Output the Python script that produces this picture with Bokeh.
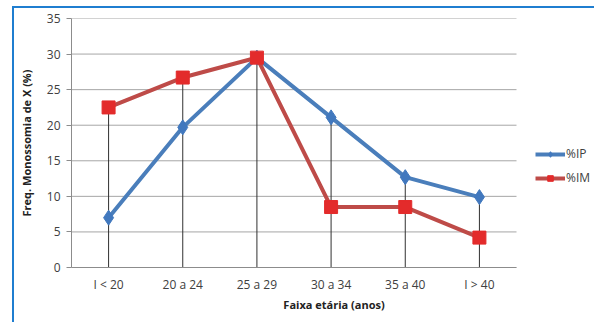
from bokeh.plotting import figure
from bokeh.models import Range1d, Legend, LegendItem, FixedTicker
from bokeh.embed import file_html
from bokeh.resources import INLINE

categories = ["I < 20", "20 a 24", "25 a 29", "30 a 34", "35 a 40", "I > 40"]
ip_values = [7.0, 19.7, 29.5, 21.1, 12.7, 9.9]
im_values = [22.5, 26.7, 29.5, 8.5, 8.5, 4.2]
y_ticks = [0, 5, 10, 15, 20, 25, 30, 35]

n = len(categories)
xpos = [i + 0.5 for i in range(n)]
drop_top = [max(a, b) for a, b in zip(ip_values, im_values)]
drop_bottom = [0] * n

FONT = "Open Sans"
TXT = "#404040"
BLUE = "#4A7EBB"
BLUE_M = "#4178BE"
RED = "#BE4B48"
RED_M = "#E32B2B"
FRAME_BLUE = "#1F7ED0"

CANVAS_W, CANVAS_H = 582, 316
LEFT, TOP, BOTTOM = 57, 10, 57
PLOT_W = 445                     # width of the category area
FRAME_W = CANVAS_W - LEFT        # frame extends to the right edge (room for legend)
x_end = n * FRAME_W / PLOT_W

p = figure(width=CANVAS_W, height=CANVAS_H, output_backend="svg",
           toolbar_location=None,
           x_range=Range1d(0, x_end), y_range=Range1d(0, 35),
           min_border_left=LEFT, min_border_right=0, min_border_top=TOP,
           min_border_bottom=BOTTOM)
p.styles = {"margin-left": "12px", "margin-top": "6px",
            "border-top": "2px solid " + FRAME_BLUE,
            "border-left": "2px solid " + FRAME_BLUE}
p.outline_line_color = None
p.background_fill_color = "white"
p.border_fill_color = "white"
p.xgrid.grid_line_color = None
p.ygrid.grid_line_color = None

# horizontal gridlines limited to the category area
p.segment(x0=[0] * len(y_ticks), y0=y_ticks, x1=[n] * len(y_ticks), y1=y_ticks,
          line_color="#A6A6A6", line_width=1)

# axes
p.yaxis.ticker = FixedTicker(ticks=y_ticks)
p.xaxis.ticker = FixedTicker(ticks=xpos)
p.xaxis.major_label_overrides = {x: c for x, c in zip(xpos, categories)}
p.xaxis.bounds = (0, n)
for ax in (p.xaxis, p.yaxis):
    ax.axis_line_color = "#8C8C8C"
    ax.major_label_text_font = FONT
    ax.major_label_text_font_size = "12px"
    ax.major_label_text_color = TXT
    ax.axis_label_text_font = FONT
    ax.axis_label_text_font_style = "bold"
    ax.axis_label_text_font_size = "11px"
    ax.axis_label_text_color = "#222222"
    ax.minor_tick_line_color = None
p.yaxis.major_tick_line_color = "#8C8C8C"
p.yaxis.major_tick_out = 5
p.yaxis.major_tick_in = 0
p.xaxis.major_tick_line_color = None
p.xaxis.major_label_standoff = 2
p.yaxis.major_label_standoff = 6
p.xaxis.axis_label = "Faixa etária (anos)"
p.yaxis.axis_label = "Freq. Monossomia de X (%)"
p.xaxis.axis_label_standoff = 1
p.yaxis.axis_label_standoff = 10

# drop lines
p.segment(x0=xpos, y0=drop_bottom, x1=xpos, y1=drop_top,
          line_color="#303030", line_width=1)

# series
l_ip = p.line(xpos, ip_values, line_color=BLUE, line_width=4)
m_ip = p.scatter(xpos, ip_values, marker="diamond", size=15,
                 fill_color=BLUE_M, line_color=BLUE_M)
l_im = p.line(xpos, im_values, line_color=RED, line_width=4)
m_im = p.scatter(xpos, im_values, marker="square", size=13,
                 fill_color=RED_M, line_color=RED_M)

legend = Legend(items=[LegendItem(label="%IP", renderers=[l_ip, m_ip]),
                       LegendItem(label="%IM", renderers=[l_im, m_im])],
                location=(464, 81), orientation="vertical",
                border_line_color=None, background_fill_alpha=0,
                label_text_font=FONT, label_text_font_size="12px",
                label_text_color=TXT, glyph_width=30, glyph_height=14,
                label_height=14, spacing=7, padding=4, margin=0,
                label_standoff=1)
p.add_layout(legend, "center")

open("out.html", "w").write(file_html(p, INLINE))
